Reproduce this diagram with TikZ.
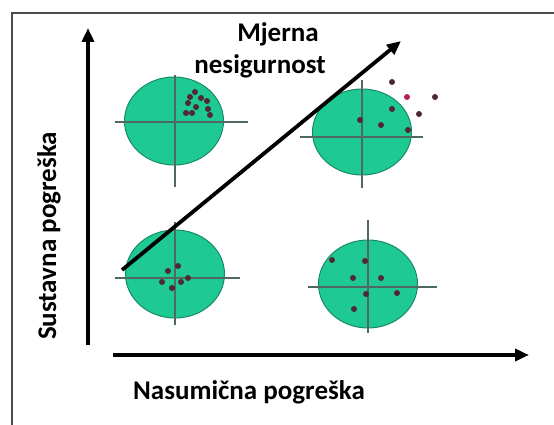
\documentclass[tikz,border=0pt]{standalone}
\usepackage{fontspec}
\setmainfont{Carlito}
\usetikzlibrary{arrows.meta}
\definecolor{target}{RGB}{30,201,148}
\definecolor{targetrim}{RGB}{22,140,100}
\definecolor{hit}{RGB}{80,40,50}
\definecolor{miss}{RGB}{190,30,80}
\definecolor{cross}{RGB}{80,105,95}
\tikzset{
  axis/.style={line width=3.8pt, -{Triangle[length=14pt,width=12pt]}},
  lbl/.style={font=\bfseries\fontsize{27}{30}\selectfont, inner sep=0pt, anchor=base},
  board/.style={fill=target, draw=targetrim, line width=1pt},
  hair/.style={cross, line width=1.1pt},
}
\begin{document}
\begin{tikzpicture}[x=1pt, y=-1pt]
    \useasboundingbox (0,0) rectangle (554,425);
    \draw[line width=2pt, black!70] (12,425) -- (12,13) -- (554,13);
    % the four targets with their cross hairs
    \foreach \cx/\cy/\ry/\hy/\xa/\xb/\vx/\ya/\yb in {
        174/121/44/122/115/248/175/75/187,
        362/132/43/137/300/423/362/80/188,
        175/274/44/278/115/240/175/222/325,
        368/284/44/287/308/437/368/220/333}{
        \fill[board] (\cx,\cy) ellipse [x radius=49.5, y radius=\ry];
        \draw[hair] (\xa,\hy) -- (\xb,\hy);
        \draw[hair] (\vx,\ya) -- (\vx,\yb);
    }
    % hits
    \foreach \p in {(190,97),(195,92),(201,98),(188,103),(196,107),(192,113),(186,113),(207,101),(208,109),(210,115),
        (360,120),(381,125),(392,109),(408,130),(392,82),(435,97),(419,114),
        (168,271),(178,266),(162,282),(172,288),(188,278),(181,282),
        (332,260),(365,261),(353,278),(381,278),(366,294),(397,293),(354,309)}
        \fill[hit] \p circle (3);
    \fill[miss] (407,97) circle (3);
    % axes
    \coordinate (yfoot) at (88,345);
    \coordinate (ytip) at (88,28);
    \coordinate (xfoot) at (113,355);
    \coordinate (xtip) at (529,355);
    \coordinate (dfoot) at (122,270);
    \coordinate (dtip) at (401,41);
    \draw[axis] (yfoot) -- (ytip);
    \draw[axis] (xfoot) -- (xtip);
    \draw[axis] (dfoot) -- (dtip);
    \node[lbl] (mj) at (278,42) {Mjerna};
    \node[lbl] (ns) at (260,74) {nesigurnost};
    \node[lbl] (np) at (249,399) {Nasumična pogreška};
    \node[lbl, rotate=90] (sp) at (56,236) {Sustavna pogreška};
\end{tikzpicture}
\end{document}
